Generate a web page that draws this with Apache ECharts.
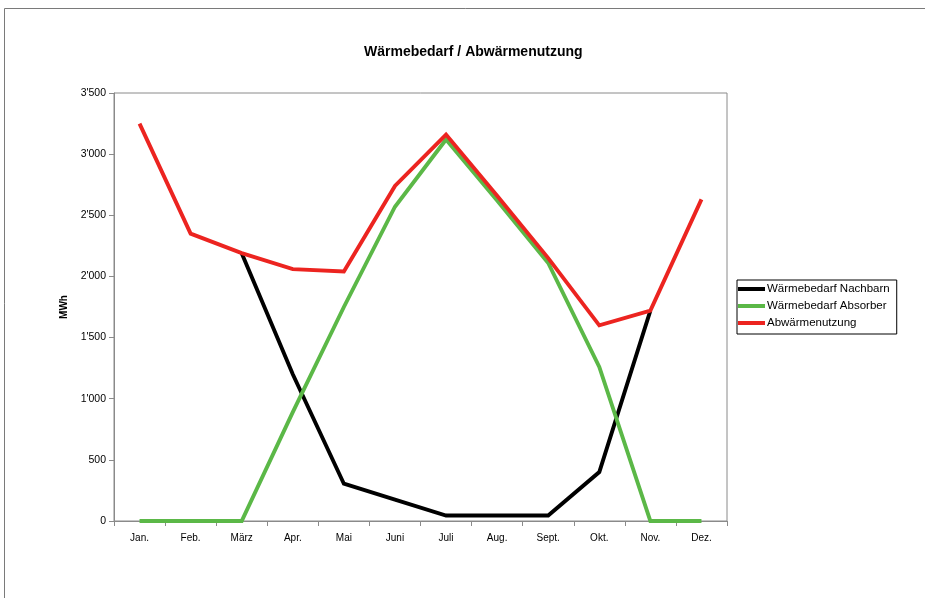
<!DOCTYPE html>
<html>
<head>
<meta charset="utf-8">
<script src="https://cdn.jsdelivr.net/npm/echarts@6/dist/echarts.min.js"></script>
<style>
  html, body { margin: 0; padding: 0; background: #fff; }
  #chart { width: 925px; height: 598px; }
</style>
</head>
<body>
<div id="chart"></div>
<script>
// Monatliche Werte in MWh
const months = ['Jan.', 'Feb.', 'März', 'Apr.', 'Mai', 'Juni', 'Juli', 'Aug.', 'Sept.', 'Okt.', 'Nov.', 'Dez.'];
const waermebedarfNachbarn = [null, null, 2190, 1200, 305, 175, 45, 45, 45, 400, 1720, null];
const waermebedarfAbsorber = [0, 0, 0, 890, 1750, 2570, 3120, 2620, 2110, 1260, 0, 0];
const abwaermenutzung = [3250, 2350, 2190, 2060, 2040, 2740, 3160, 2660, 2150, 1600, 1720, 2630];
const yTicks = [0, 500, 1000, 1500, 2000, 2500, 3000, 3500];

const FONT = '"Liberation Sans", Arial, sans-serif';
const AXIS_GREY = '#8a8a8a';

// Tausendertrennzeichen im Schweizer Stil: 3'500
function swissNumber(v) {
  const s = String(Math.round(v));
  return s.replace(/\B(?=(\d{3})+(?!\d))/g, "'");
}

const chart = echarts.init(document.getElementById('chart'), null, { renderer: 'canvas' });

const lineSeries = (name, data, color) => ({
  name,
  type: 'line',
  data,
  symbol: 'none',
  connectNulls: false,
  lineStyle: { color, width: 3.9, join: 'miter' },
  itemStyle: { color },
  emphasis: { disabled: true },
  animation: false
});

chart.setOption({
  backgroundColor: '#fff',
  textStyle: { fontFamily: FONT },
  title: {
    text: 'Wärmebedarf / Abwärmenutzung',
    left: 359,
    top: 40,
    textStyle: { fontFamily: FONT, fontSize: 14, fontWeight: 'bold', color: '#000' }
  },
  graphic: [
    {
      // Rahmen des Diagrammbereichs
      type: 'rect',
      shape: { x: 4.5, y: 8.5, width: 1200, height: 1200 },
      style: { fill: 'none', stroke: '#7a7a7a', lineWidth: 1 },
      silent: true
    }
  ],
  legend: {
    orient: 'vertical',
    left: 737,
    top: 280,
    padding: [3, 7, 5, 1],
    itemGap: 5,
    itemWidth: 27,
    itemHeight: 4,
    icon: 'rect',
    borderColor: '#000',
    borderWidth: 1,
    selectedMode: false,
    textStyle: { fontFamily: FONT, fontSize: 11.5, lineHeight: 12, color: '#000', padding: [0, 0, 0, -3] },
    data: ['Wärmebedarf Nachbarn', 'Wärmebedarf Absorber', 'Abwärmenutzung']
  },
  grid: {
    left: 114,
    right: 198,
    top: 93,
    bottom: 77,
    show: true,
    borderColor: AXIS_GREY,
    borderWidth: 1,
    backgroundColor: 'transparent'
  },
  xAxis: {
    type: 'category',
    data: months,
    boundaryGap: true,
    axisLine: { lineStyle: { color: AXIS_GREY, width: 1 } },
    axisTick: { show: true, interval: 0, alignWithLabel: false, length: 5, lineStyle: { color: AXIS_GREY } },
    axisLabel: { interval: 0, color: '#000', fontSize: 10, fontFamily: FONT, margin: 12 },
    splitLine: { show: false }
  },
  yAxis: {
    type: 'value',
    min: 0,
    max: 3500,
    interval: 500,
    name: 'MWh',
    nameLocation: 'middle',
    nameRotate: 90,
    nameGap: 45,
    nameTextStyle: { fontFamily: FONT, fontSize: 10, fontWeight: 'bold', color: '#000' },
    axisLine: { show: true, lineStyle: { color: AXIS_GREY, width: 1 } },
    axisTick: { show: true, length: 5, lineStyle: { color: AXIS_GREY } },
    axisLabel: {
      color: '#000', fontSize: 10.5, fontFamily: FONT, margin: 8,
      formatter: (v) => yTicks.includes(v) ? swissNumber(v) : ''
    },
    splitLine: { show: false }
  },
  series: [
    lineSeries('Wärmebedarf Nachbarn', waermebedarfNachbarn, '#000000'),
    lineSeries('Wärmebedarf Absorber', waermebedarfAbsorber, '#5bb847'),
    lineSeries('Abwärmenutzung', abwaermenutzung, '#ec2420')
  ]
});
</script>
</body>
</html>
